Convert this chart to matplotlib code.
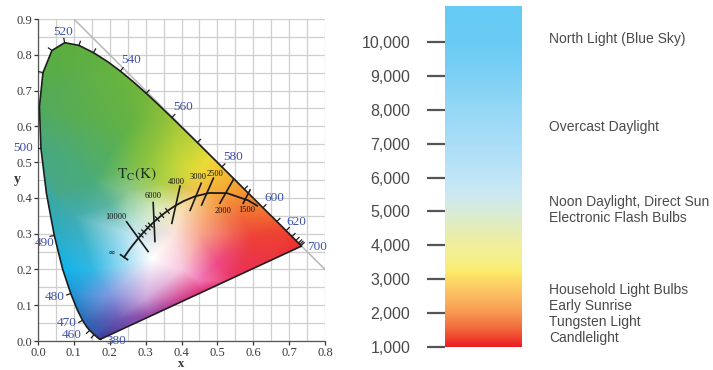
import numpy as np
import matplotlib
matplotlib.use("Agg")
import matplotlib.pyplot as plt
import matplotlib.tri as mtri
from matplotlib.patches import Polygon
from matplotlib.colors import to_rgb, LinearSegmentedColormap
import matplotlib.transforms as mtransforms

# ---------------- data: CIE 1931 spectral locus ----------------
locus_wl = [380, 420, 440, 450, 460, 465, 470, 475, 480, 485, 490, 495, 500, 505, 510, 515,
            520, 525, 530, 535, 540, 545, 550, 555, 560, 565, 570, 575, 580, 585, 590, 595,
            600, 605, 610, 620, 630, 640, 650, 660, 680, 700]
locus_x = [0.1741, 0.1714, 0.1644, 0.1566, 0.1440, 0.1355, 0.1241, 0.1096, 0.0913, 0.0687,
           0.0454, 0.0235, 0.0082, 0.0039, 0.0139, 0.0389, 0.0743, 0.1142, 0.1547, 0.1929,
           0.2296, 0.2658, 0.3016, 0.3373, 0.3731, 0.4087, 0.4441, 0.4788, 0.5125, 0.5448,
           0.5752, 0.6029, 0.6270, 0.6482, 0.6658, 0.6915, 0.7079, 0.7190, 0.7260, 0.7300,
           0.7334, 0.7347]
locus_y = [0.0050, 0.0051, 0.0109, 0.0177, 0.0297, 0.0399, 0.0578, 0.0868, 0.1327, 0.2007,
           0.2950, 0.4127, 0.5384, 0.6548, 0.7502, 0.8120, 0.8338, 0.8262, 0.8059, 0.7816,
           0.7543, 0.7243, 0.6923, 0.6589, 0.6245, 0.5896, 0.5547, 0.5202, 0.4866, 0.4544,
           0.4242, 0.3965, 0.3725, 0.3514, 0.3340, 0.3083, 0.2920, 0.2809, 0.2740, 0.2700,
           0.2666, 0.2653]
tick_wl = [450, 460, 470, 480, 490, 500, 510, 515, 520, 525, 530, 540, 550, 560, 570, 580,
           590, 600, 610, 620, 630, 640, 650, 660, 680]

wl_labels = ["380", "460", "470", "480", "490", "500", "520", "540", "560", "580", "600", "620", "700"]
wl_label_x = [0.219, 0.093, 0.079, 0.047, 0.019, -0.042, 0.071, 0.260, 0.405, 0.544, 0.660, 0.721, 0.777]
wl_label_y = [0.001, 0.017, 0.049, 0.124, 0.273, 0.539, 0.864, 0.786, 0.655, 0.515, 0.399, 0.333, 0.263]

# Planckian locus
planck_T = [np.inf, 20000, 15000, 10000, 9000, 8000, 7000, 6500, 6000, 5500, 5000, 4500, 4000,
            3500, 3000, 2500, 2000, 1500, 1300]
planck_x = [0.2399, 0.2565, 0.2637, 0.2807, 0.2869, 0.2952, 0.3064, 0.3135, 0.3221, 0.3325,
            0.3451, 0.3608, 0.3805, 0.4053, 0.4369, 0.4770, 0.5267, 0.5857, 0.6110]
planck_y = [0.2342, 0.2577, 0.2672, 0.2884, 0.2957, 0.3048, 0.3166, 0.3237, 0.3318, 0.3411,
            0.3516, 0.3636, 0.3768, 0.3907, 0.4041, 0.4137, 0.4133, 0.3931, 0.3780]
mired_T = [9000, 8000, 7000, 6500, 5500, 5000, 4500]

# isotherms (end points) and their labels
iso_T = ["10000", "6000", "4000", "3000", "2500", "2000", "1500"]
iso_x1 = [0.247, 0.321, 0.396, 0.455, 0.489, 0.544, 0.591]
iso_y1 = [0.333, 0.387, 0.433, 0.441, 0.455, 0.450, 0.422]
iso_x2 = [0.307, 0.326, 0.373, 0.424, 0.456, 0.507, 0.572]
iso_y2 = [0.250, 0.278, 0.329, 0.365, 0.380, 0.385, 0.385]
iso_label_x = [0.217, 0.321, 0.385, 0.447, 0.493, 0.515, 0.582]
iso_label_y = [0.347, 0.406, 0.445, 0.459, 0.467, 0.364, 0.366]

# colour anchors of the chromaticity fill
fill_x = [0.1741, 0.1566, 0.1241, 0.0913, 0.0687, 0.0454, 0.0235, 0.0082, 0.0039, 0.0139,
          0.0743, 0.1547, 0.2296, 0.3016, 0.3731, 0.4441, 0.4788, 0.5125, 0.5752, 0.6270,
          0.6658, 0.6915, 0.7190, 0.7347, 0.6446, 0.5545, 0.4544, 0.3143,
          0.32, 0.25, 0.15, 0.20, 0.22, 0.30, 0.40, 0.45, 0.50, 0.38, 0.45, 0.55, 0.60,
          0.40, 0.33, 0.45, 0.50, 0.55, 0.40, 0.45, 0.30, 0.15, 0.20, 0.25, 0.10, 0.05, 0.35, 0.25]
fill_y = [0.0050, 0.0177, 0.0578, 0.1327, 0.2007, 0.2950, 0.4127, 0.5384, 0.6548, 0.7502,
          0.8338, 0.8059, 0.7543, 0.6923, 0.6245, 0.5547, 0.5202, 0.4866, 0.4242, 0.3725,
          0.3340, 0.3083, 0.2809, 0.2653, 0.2002, 0.1677, 0.1352, 0.0701,
          0.23, 0.30, 0.20, 0.13, 0.06, 0.12, 0.20, 0.17, 0.22, 0.30, 0.30, 0.30, 0.29,
          0.37, 0.37, 0.42, 0.40, 0.38, 0.50, 0.47, 0.50, 0.45, 0.38, 0.42, 0.35, 0.42, 0.44, 0.60]
fill_color = ["#3a3c98", "#2f55a8", "#2c6cb8", "#1f96d8", "#10b4ea", "#2aacc8", "#3aa8a0",
              "#48a880", "#52aa5c", "#58ad48", "#5cae40", "#60b040", "#68b43e", "#74b83c",
              "#98c43a", "#c8d43a", "#e8dc38", "#f5c830", "#f49a30", "#f27a30", "#f05a30",
              "#ee4430", "#ec3430", "#e83030", "#ea3048", "#e8305e", "#e0307a", "#9a44a4",
              "#ffffff", "#b8e4f0", "#30b8e6", "#7f9ae0", "#6a58b4", "#d0a8dc", "#f8c8e0",
              "#f27ab8", "#ee4a86", "#fce2dc", "#f8a890", "#f06050", "#ee4038",
              "#f6e0b0", "#dcecc0", "#f8c050", "#f5a040", "#f48038", "#c8d838", "#ecd838",
              "#8cc440", "#4aac78", "#5cb4a0", "#8cc88c", "#40acb0", "#48a888", "#b0d048", "#62b244"]

# colour temperature bar
bar_vals = [1000, 1500, 2000, 2500, 3000, 3200, 3500, 4000, 4500, 5000, 5500, 6000, 7000,
            8000, 9000, 10000, 11060]
bar_colors = ["#ec2024", "#f2683c", "#f89a52", "#fbbd62", "#fddc68", "#feec6a", "#f6ef88",
              "#f1ef9d", "#e4edb9", "#d7ebd8", "#cce9f2", "#bfe5f8", "#a9ddf7", "#95d8f6",
              "#7dd0f4", "#68cbf4", "#66ccf4"]
tick_vals = [1000, 2000, 3000, 4000, 5000, 6000, 7000, 8000, 9000, 10000]
source_labels = ["North Light (Blue Sky)", "Overcast Daylight", "Noon Daylight, Direct Sun",
                 "Electronic Flash Bulbs", "Household Light Bulbs", "Early Sunrise",
                 "Tungsten Light", "Candlelight"]
source_vals = [10090, 7490, 5280, 4810, 2680, 2210, 1740, 1270]

# ---------------- figure ----------------
plt.rcParams["mathtext.fontset"] = "stix"
fig = plt.figure(figsize=(7.13, 3.70), dpi=100, facecolor="white")

serif = ["Liberation Serif", "DejaVu Serif"]
ax = fig.add_axes([38 / 713, 29 / 370, 287 / 713, 322 / 370])
ax.set_xlim(0, 0.8)
ax.set_ylim(0, 0.9)
ax.set_xticks(np.arange(0, 0.81, 0.1))
ax.set_yticks(np.arange(0, 0.91, 0.1))
ax.set_xticks(np.arange(0, 0.81, 0.05), minor=True)
ax.set_yticks(np.arange(0, 0.91, 0.05), minor=True)
ax.tick_params(which="minor", length=0)
ax.tick_params(which="major", length=3.2, width=0.9, color="#333333", pad=0.8,
               labelsize=9, labelcolor="#3a3a3a", direction="out")
ax.set_xticklabels([f"{v:.1f}" for v in np.arange(0, 0.81, 0.1)], family=serif)
ax.set_yticklabels([f"{v:.1f}" for v in np.arange(0, 0.91, 0.1)], family=serif)
ax.grid(which="both", color="#cfcfcf", linewidth=0.9, zorder=0)
ax.set_axisbelow(True)
for s in ["top", "right"]:
    ax.spines[s].set_visible(False)
for s in ["left", "bottom"]:
    ax.spines[s].set_color("#555555")
    ax.spines[s].set_linewidth(0.9)
ax.set_xlabel("x", family=serif, fontsize=9, fontweight="bold", color="#333333")
ax.set_ylabel("y", family=serif, fontsize=10, fontweight="bold", color="#333333", rotation=0,
              va="center", ha="center")
ax.xaxis.set_label_coords(0.5, -0.053)
ax.yaxis.set_label_coords(-0.073, 0.5)

# x + y = 1 line
xl = np.array(ax.get_xlim())
xs = np.array([1 - ax.get_ylim()[1], xl[1]])
ax.plot(xs, 1 - xs, color="#b8b8b8", lw=1.1, zorder=1, clip_on=True)

# chromaticity fill
lx, ly = np.array(locus_x), np.array(locus_y)
fx, fy = np.array(fill_x), np.array(fill_y)
cols = np.array([to_rgb(c) for c in fill_color])
nb = 28
cx, cy = lx.mean(), ly.mean()
ex = np.concatenate([fx, fx[:nb] + 0.06 * (fx[:nb] - cx)])
ey = np.concatenate([fy, fy[:nb] + 0.06 * (fy[:nb] - cy)])
ecol = np.concatenate([cols, cols[:nb]])
tri = mtri.Triangulation(ex, ey)
gx, gy = np.meshgrid(np.linspace(0, 0.8, 480), np.linspace(0, 0.9, 540))
img = np.ones(gx.shape + (4,))
for c in range(3):
    interp = mtri.LinearTriInterpolator(tri, ecol[:, c])
    img[..., c] = np.clip(np.ma.filled(interp(gx, gy), 1.0), 0, 1)
poly = Polygon(np.column_stack([lx, ly]), closed=True, transform=ax.transData,
               facecolor="none", edgecolor="none")
ax.add_patch(poly)
im = ax.imshow(img, extent=[0, 0.8, 0, 0.9], origin="lower", interpolation="bilinear",
               aspect="auto", zorder=2)
im.set_clip_path(poly)

# locus outline
ax.plot(np.append(lx, lx[0]), np.append(ly, ly[0]), color="#1e1e1e", lw=1.2, zorder=4,
        solid_joinstyle="round")

# wavelength ticks
for w in tick_wl:
    i = locus_wl.index(w)
    tx = lx[i + 1] - lx[i - 1]
    ty = ly[i + 1] - ly[i - 1]
    n = np.hypot(tx, ty)
    nx, ny = -ty / n, tx / n
    ax.plot([lx[i], lx[i] + 0.012 * nx], [ly[i], ly[i] + 0.012 * ny], color="#1e1e1e",
            lw=0.9, zorder=4)
for t, x, y in zip(wl_labels, wl_label_x, wl_label_y):
    ax.text(x, y, t, family=serif, fontsize=9.5, color="#3f52a8", ha="center", va="center",
            zorder=5, clip_on=False)

# Planckian locus
px, py = np.array(planck_x), np.array(planck_y)
ax.plot(px, py, color="#1a1a1a", lw=1.3, zorder=5)
def perp(i, half):
    j0, j1 = max(i - 1, 0), min(i + 1, len(px) - 1)
    tx, ty = px[j1] - px[j0], py[j1] - py[j0]
    n = np.hypot(tx, ty)
    nx, ny = -ty / n, tx / n
    return [px[i] - half * nx, px[i] + half * nx], [py[i] - half * ny, py[i] + half * ny]
xs_, ys_ = perp(0, 0.012)
ax.plot(xs_, ys_, color="#1a1a1a", lw=1.2, zorder=5)
for T in mired_T:
    xs_, ys_ = perp(planck_T.index(T), 0.008)
    ax.plot(xs_, ys_, color="#1a1a1a", lw=0.9, zorder=5)
for x1, y1, x2, y2 in zip(iso_x1, iso_y1, iso_x2, iso_y2):
    ax.plot([x1, x2], [y1, y2], color="#1a1a1a", lw=1.2, zorder=5)
for t, x, y in zip(iso_T, iso_label_x, iso_label_y):
    ax.text(x, y, t, family=serif, fontsize=6, color="#111111", ha="center", va="center", zorder=6)
ax.text(0.205, 0.245, "\u221e", family=["Liberation Serif", "DejaVu Sans"], fontsize=6,
        color="#111111", ha="center", va="center", zorder=6)
ax.text(0.275, 0.467, r"$\mathrm{T_C(K)}$", fontsize=11, color="#1c3320", ha="center",
        va="center", zorder=6)

# ---------------- right: colour temperature bar ----------------
sans = ["Liberation Sans", "DejaVu Sans"]
ylo, yhi = 973, bar_vals[-1]
bx = fig.add_axes([445 / 713, 22 / 370, 77 / 713, 342 / 370])
bx.set_xlim(0, 1)
bx.set_ylim(ylo, yhi)
pos = (np.array(bar_vals) - bar_vals[0]) / (bar_vals[-1] - bar_vals[0])
cmap = LinearSegmentedColormap.from_list("ct", list(zip(pos, bar_colors)))
grad = np.linspace(bar_vals[0], bar_vals[-1], 400).reshape(-1, 1)
bx.imshow(grad, extent=[0, 1, bar_vals[0], bar_vals[-1]], origin="lower", aspect="auto",
          cmap=cmap, vmin=bar_vals[0], vmax=bar_vals[-1], interpolation="bilinear")
for s in bx.spines.values():
    s.set_visible(False)
bx.set_xticks([])
bx.set_yticks(tick_vals)
bx.set_yticklabels([f"{v:,}" for v in tick_vals], family=sans)
bx.tick_params(axis="y", length=13, width=1.6, color="#555555", pad=12, labelsize=11.5,
               labelcolor="#4a4a4a")
trans = mtransforms.blended_transform_factory(bx.transAxes, bx.transData)
for t, v in zip(source_labels, source_vals):
    bx.text(1.35, v, t, transform=trans, family=sans, fontsize=10, color="#4a4a4a",
            ha="left", va="center")

fig.savefig("out.png", dpi=100, facecolor="white")
